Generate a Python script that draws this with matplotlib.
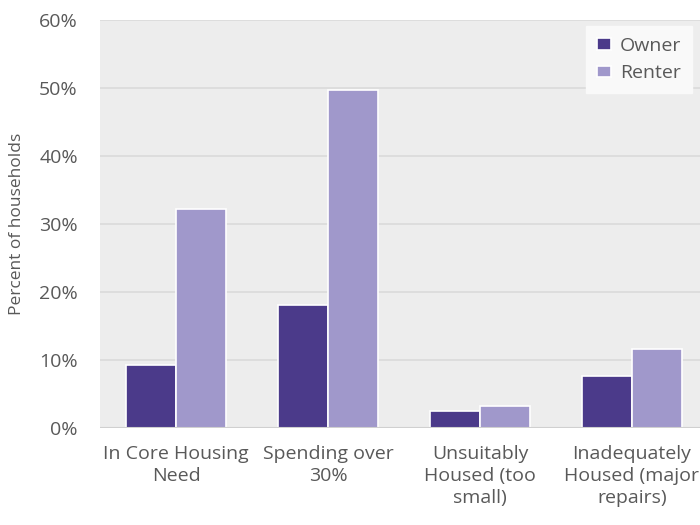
import matplotlib
matplotlib.use("Agg")
import matplotlib.pyplot as plt
import numpy as np

categories = ["In Core Housing\nNeed", "Spending over\n30%", "Unsuitably\nHoused (too\nsmall)", "Inadequately\nHoused (major\nrepairs)"]
owner = [9.3, 18.1, 2.5, 7.6]
renter = [32.2, 49.7, 3.2, 11.6]
yticks = [0, 10, 20, 30, 40, 50, 60]

plt.rcParams['font.family'] = ['Open Sans', 'DejaVu Sans']

fig = plt.figure(figsize=(7, 5.25), dpi=100)
ax = fig.add_axes([100/700, (525-428)/525, 608/700, 408/525])
ax.set_facecolor('#ededed')

x = np.arange(len(categories))
w = 0.33
ax.bar(x - w/2, owner, width=w, color='#4b3a8a', edgecolor='white', linewidth=1.2, label='Owner', zorder=3)
ax.bar(x + w/2, renter, width=w, color='#a098cb', edgecolor='white', linewidth=1.2, label='Renter', zorder=3)

ax.set_xlim(-0.5, len(categories) - 0.5)
ax.set_ylim(0, 60)
ax.set_yticks(yticks)
ax.set_yticklabels([f"{v}%" for v in yticks], fontsize=14, color='#595959')
ax.set_xticks(x)
ax.set_xticklabels(categories, fontsize=14, color='#595959', linespacing=1.3)
ax.tick_params(axis='y', length=0, pad=16)
ax.tick_params(axis='x', length=0, pad=12)
ax.yaxis.grid(True, color='#dadada', linewidth=1.2, zorder=0)
ax.set_axisbelow(True)
for s in ax.spines.values():
    s.set_visible(False)
ax.axhline(0, color='#d0d0d0', linewidth=1.5, zorder=4)

ax.set_ylabel("Percent of households", fontsize=12.5, color='#595959', labelpad=10)

leg = ax.legend(loc='upper right', bbox_to_anchor=((692-100)/608, (428-26)/408), fontsize=14,
                frameon=True, fancybox=False, framealpha=1, facecolor='#f9f9f9', edgecolor='#f9f9f9',
                handlelength=0.75, handleheight=0.55, handletextpad=0.45, borderpad=0.55, labelspacing=0.5,
                borderaxespad=0)
for t in leg.get_texts():
    t.set_color('#595959')

fig.savefig("out.png", dpi=100)
